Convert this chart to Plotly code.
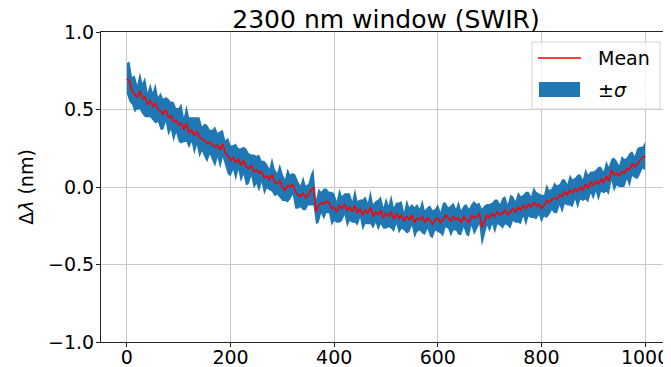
import numpy as np
import plotly.graph_objects as go

# x positions (pixel index), step 5
x_vals = list(range(0, 1001, 5))

mean_vals = [
    0.70, 0.68, 0.62, 0.60, 0.58, 0.62, 0.57, 0.58, 0.53, 0.56, 0.52, 0.54, 0.50, 0.49, 0.47, 0.50, 0.45, 0.46, 0.42, 0.43,
    0.40, 0.41, 0.37, 0.41, 0.35, 0.37, 0.33, 0.36, 0.32, 0.31, 0.30, 0.28, 0.29, 0.27, 0.26, 0.27, 0.24, 0.28, 0.22, 0.20,
    0.17, 0.19, 0.16, 0.18, 0.14, 0.17, 0.13, 0.12, 0.14, 0.10, 0.11, 0.09, 0.10, 0.06, 0.07, 0.05, 0.08, 0.03, 0.02, 0.04,
    0.00, -0.02, 0.01, 0.00, 0.02, -0.03, -0.05, -0.06, -0.04, -0.07, -0.05, -0.02, 0.00, -0.16, -0.12, -0.10, -0.11, -0.09, -0.10, -0.14,
    -0.13, -0.16, -0.12, -0.14, -0.11, -0.15, -0.13, -0.16, -0.12, -0.17, -0.14, -0.18, -0.15, -0.17, -0.13, -0.19, -0.16, -0.18, -0.15, -0.20,
    -0.17, -0.19, -0.16, -0.21, -0.17, -0.20, -0.18, -0.22, -0.19, -0.21, -0.18, -0.23, -0.20, -0.21, -0.19, -0.23, -0.20, -0.22, -0.24, -0.21,
    -0.20, -0.23, -0.21, -0.18, -0.20, -0.22, -0.19, -0.21, -0.20, -0.23, -0.19, -0.21, -0.23, -0.18, -0.20, -0.19, -0.17, -0.26, -0.22, -0.18,
    -0.20, -0.17, -0.19, -0.16, -0.18, -0.17, -0.15, -0.18, -0.16, -0.14, -0.16, -0.13, -0.15, -0.12, -0.14, -0.11, -0.13, -0.10, -0.12, -0.11,
    -0.14, -0.12, -0.09, -0.10, -0.08, -0.07, -0.08, -0.05, -0.06, -0.03, -0.05, -0.02, -0.04, -0.01, -0.03, 0.00, -0.02, 0.02, -0.01, 0.03,
    0.01, 0.04, 0.02, 0.05, 0.03, 0.07, 0.04, 0.11, 0.08, 0.09, 0.07, 0.10, 0.09, 0.12, 0.11, 0.15, 0.13, 0.15, 0.17, 0.19,
    0.20,
]

sigma_vals = [
    0.10, 0.13, 0.09, 0.12, 0.08, 0.12, 0.10, 0.13, 0.08, 0.11, 0.09, 0.13, 0.08, 0.12, 0.10, 0.08, 0.12, 0.09, 0.13, 0.08,
    0.11, 0.13, 0.08, 0.12, 0.10, 0.08, 0.12, 0.09, 0.13, 0.08, 0.11, 0.12, 0.08, 0.10, 0.13, 0.08, 0.12, 0.09, 0.08, 0.12,
    0.10, 0.08, 0.12, 0.07, 0.11, 0.09, 0.12, 0.10, 0.07, 0.11, 0.09, 0.12, 0.07, 0.11, 0.08, 0.07, 0.11, 0.09, 0.07, 0.11,
    0.09, 0.07, 0.11, 0.08, 0.07, 0.11, 0.09, 0.07, 0.11, 0.08, 0.07, 0.10, 0.12, 0.08, 0.11, 0.07, 0.10, 0.08, 0.07, 0.11,
    0.09, 0.07, 0.11, 0.08, 0.07, 0.11, 0.09, 0.07, 0.11, 0.08, 0.06, 0.10, 0.09, 0.07, 0.11, 0.08, 0.07, 0.10, 0.09, 0.07,
    0.10, 0.07, 0.11, 0.08, 0.07, 0.10, 0.09, 0.06, 0.11, 0.08, 0.07, 0.10, 0.09, 0.07, 0.11, 0.08, 0.07, 0.10, 0.09, 0.07,
    0.09, 0.07, 0.11, 0.08, 0.07, 0.10, 0.09, 0.07, 0.11, 0.08, 0.07, 0.10, 0.09, 0.07, 0.11, 0.08, 0.07, 0.12, 0.10, 0.07,
    0.09, 0.07, 0.11, 0.08, 0.07, 0.10, 0.09, 0.07, 0.11, 0.08, 0.07, 0.10, 0.09, 0.07, 0.11, 0.08, 0.07, 0.10, 0.09, 0.07,
    0.09, 0.07, 0.11, 0.08, 0.07, 0.10, 0.09, 0.07, 0.11, 0.08, 0.07, 0.10, 0.09, 0.07, 0.11, 0.08, 0.07, 0.10, 0.09, 0.07,
    0.09, 0.07, 0.11, 0.08, 0.07, 0.10, 0.09, 0.07, 0.11, 0.08, 0.07, 0.10, 0.09, 0.07, 0.11, 0.08, 0.07, 0.10, 0.09, 0.07,
    0.09,
]

x_ticks = [0, 200, 400, 600, 800, 1000]
y_ticks = [-1.0, -0.5, 0.0, 0.5, 1.0]
legend_labels = ["Mean", "±<i>σ</i>"]

assert len(mean_vals) == len(x_vals) == len(sigma_vals)

m = np.array(mean_vals)
s = np.array(sigma_vals)

FONT = "DejaVu Sans"
BLUE = "#1f77b4"

# The page body has an 8px default margin, so the figure is sized to end at the window edge.
OFF = 8
FIG_W, FIG_H = 671 - OFF, 367 - OFF

fig = go.Figure()
fig.add_trace(go.Scatter(x=x_vals, y=m - s, mode="lines", line=dict(width=0, color=BLUE),
                         showlegend=False, hoverinfo="skip"))
fig.add_trace(go.Scatter(x=x_vals, y=m + s, mode="lines", line=dict(width=0, color=BLUE),
                         fill="tonexty", fillcolor=BLUE, name=legend_labels[1], showlegend=False))
fig.add_trace(go.Scatter(x=x_vals, y=mean_vals, mode="lines", line=dict(color="red", width=1.6),
                         name=legend_labels[0], showlegend=False))

axis_common = dict(showgrid=True, gridcolor="#c8c8c8", gridwidth=0.8,
                   showline=True, linecolor="#222222", linewidth=1, mirror=True,
                   ticks="outside", ticklen=4, tickcolor="#222222", zeroline=False,
                   automargin=False,
                   tickfont=dict(family=FONT, size=19, color="black"))

# Plot area in window pixels (reference coordinates)
L, T, W, H = 101, 32, 570, 310
def px(xp):
    return (xp - L) / W
def py(yp):
    return (T + H - yp) / H

shapes = [
    dict(type="rect", xref="paper", yref="paper", x0=px(532), x1=px(660), y0=py(109), y1=py(42),
         fillcolor="rgba(255,255,255,0.8)", line=dict(color="#d5d5d5", width=1), layer="above"),
    dict(type="line", xref="paper", yref="paper", x0=px(538), x1=px(581), y0=py(58), y1=py(58),
         line=dict(color="red", width=1.6), layer="above"),
    dict(type="rect", xref="paper", yref="paper", x0=px(539), x1=px(580), y0=py(97), y1=py(82),
         fillcolor=BLUE, line=dict(width=0), layer="above"),
]
annotations = [
    dict(text=legend_labels[0], xref="paper", yref="paper", x=px(596), y=py(58), xanchor="left",
         yanchor="middle", showarrow=False, font=dict(family=FONT, size=19, color="black")),
    dict(text=legend_labels[1], xref="paper", yref="paper", x=px(596), y=py(90), xanchor="left",
         yanchor="middle", showarrow=False, font=dict(family=FONT, size=19, color="black")),
]

fig.update_layout(
    width=FIG_W, height=FIG_H,
    margin=dict(l=L - OFF, r=FIG_W - (L - OFF) - W, t=T - OFF, b=FIG_H - (T - OFF) - H, autoexpand=False),
    paper_bgcolor="white", plot_bgcolor="white",
    font=dict(family=FONT, color="black"),
    title=dict(text="2300 nm window (SWIR)", x=(386 - OFF) / FIG_W, xanchor="center", xref="container",
               y=1 - (19 - OFF) / FIG_H, yanchor="middle", yref="container", automargin=False,
               font=dict(family=FONT, size=25, color="black")),
    xaxis=dict(range=[-50, 1050], tickvals=x_ticks, ticklabelstandoff=-6, **axis_common),
    yaxis=dict(range=[-1, 1], tickvals=y_ticks, tickformat=".1f", ticklabelstandoff=-2,
               title=dict(text="Δ<i>λ</i> (nm)", font=dict(family=FONT, size=19, color="black"), standoff=9),
               **axis_common),
    shapes=shapes,
    annotations=annotations,
    showlegend=False,
)

fig.write_html("out.html")
